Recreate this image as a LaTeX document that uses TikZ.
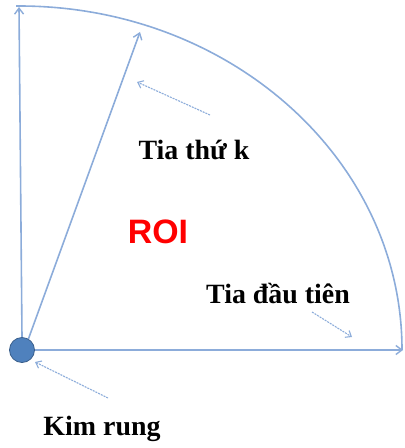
\documentclass[tikz,border=0pt]{standalone}
\usepackage{fontspec}
\setmainfont{Liberation Serif}
\newfontfamily\roifont{Liberation Sans}
\usetikzlibrary{arrows.meta}
\definecolor{raycol}{RGB}{140,172,218}
\definecolor{dotfill}{RGB}{79,129,189}
\definecolor{dotline}{RGB}{56,93,138}
\definecolor{roired}{RGB}{255,0,0}
\tikzset{
  ray/.style={draw=raycol, line width=1.6bp, -{Straight Barb[length=6bp,width=9bp,line width=1.4bp]}},
  pointer/.style={draw=raycol, line width=1.1bp, dash pattern=on 2bp off 1bp, -{Straight Barb[length=5bp,width=8bp,line width=1.1bp]}},
  lbl/.style={font=\fontsize{28}{30}\selectfont\bfseries, anchor=base, inner sep=0pt},
}
\begin{document}
\begin{tikzpicture}[x=1bp,y=-1bp]
\useasboundingbox (0,0) rectangle (404,448);
% arc (ROI boundary)
\draw[draw=raycol, line width=1.6bp] (16,6) -- (19,6) arc[start angle=90, end angle=0, x radius=383, y radius=-344];
% needle
\node[circle, fill=dotfill, draw=dotline, line width=0.8bp, minimum size=25bp, inner sep=0pt] (kim) at (22,350) {};
\coordinate (firstEnd) at (403,350);
\coordinate (topEnd) at (19,7);
\coordinate (kEnd) at (140,32);
\draw[ray] (kim.east) -- (firstEnd);
\draw[ray] (kim.north) -- (topEnd);
\draw[ray] (kim.60) -- (kEnd);
% labels
\node[lbl] (tiak) at (194,160) {Tia thứ k};
\node[lbl] (tiadau) at (278,303) {Tia đầu tiên};
\node[lbl] (kimlbl) at (102,435) {Kim rung};
\node[anchor=base, inner sep=0pt, text=roired, font=\fontsize{34}{36}\selectfont\roifont\bfseries] (roi) at (158,243) {ROI};
% pointers
\coordinate (pkS) at (210,115); \coordinate (pkE) at (137,82);
\coordinate (pdS) at (312,312); \coordinate (pdE) at (352,337);
\coordinate (prS) at (108,398); \coordinate (prE) at (35,362);
\draw[pointer] (pkS) -- (pkE);
\draw[pointer] (pdS) -- (pdE);
\draw[pointer] (prS) -- (prE);
\end{tikzpicture}
\end{document}
